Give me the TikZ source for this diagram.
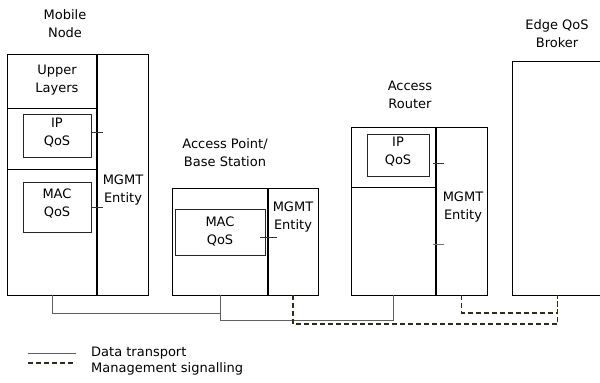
\documentclass[tikz,border=0pt]{standalone}
\usepackage{fontspec}
\setmainfont{DejaVu Sans}
\usepackage{xcolor}
\definecolor{dataline}{RGB}{95,95,95}
\definecolor{mgmtline}{RGB}{45,45,25}
\usepackage{tikz}
\usetikzlibrary{positioning}

\begin{document}
\begin{tikzpicture}[x=1pt,y=-1pt,font=\fontsize{13}{18}\selectfont]
  \tikzstyle{unit}=[rectangle,draw=black,line width=1pt,inner sep=0pt,outer sep=0pt]
  \tikzstyle{qos}=[rectangle,draw=black!85,line width=0.9pt,inner sep=0pt,outer sep=0pt,align=center]
  \tikzstyle{lbl}=[inner sep=0pt,align=center]
  \tikzstyle{data}=[draw=dataline,line width=0.8pt]
  \tikzstyle{mgmt}=[draw=mgmtline,line width=1.6pt,dash pattern=on 5pt off 3pt]
  \tikzstyle{tick}=[draw=black!80,line width=0.9pt]

  \useasboundingbox (0,0) rectangle (600,383);

  % Mobile Node
  \node[lbl] (mnlbl) at (65,24) {Mobile\\Node};
  \node[unit,minimum width=90pt,minimum height=241pt] (mnl) at (52,174.5) {};
  \node[unit,minimum width=51pt,minimum height=241pt] (mnm) at (122.5,174.5) {};
  \draw[line width=1.4pt] (mnm.north west) -- (mnm.south west);
  \draw[line width=0.9pt] (7,108) -- (97,108);
  \draw[line width=0.9pt] (7,169) -- (97,169);
  \node[lbl] (mnup) at (57,80) {Upper\\Layers};
  \node[qos,minimum width=68pt,minimum height=43pt] (mnip) at (57,135.5) {};
  \node[lbl] (mniptxt) at (57,133) {IP\\QoS};
  \node[qos,minimum width=68pt,minimum height=50pt] (mnmac) at (57,207) {};
  \node[lbl] (mnmactxt) at (57,204) {MAC\\QoS};
  \node[lbl] (mnmt) at (123,190) {MGMT\\Entity};
  \draw[tick] ([yshift=3.5pt]mnip.east) -- ++(12,0);
  \draw[tick] (mnmac.east) -- ++(12,0);

  % Access Point / Base Station
  \node[lbl] (aplbl) at (225,153) {Access Point/\\Base Station};
  \node[unit,minimum width=96pt,minimum height=107pt] (apl) at (220,241.5) {};
  \node[unit,minimum width=50pt,minimum height=107pt] (apm) at (293,241.5) {};
  \draw[line width=1.4pt] (apm.north west) -- (apm.south west);
  \node[qos,minimum width=90pt,minimum height=46pt] (apmac) at (220,232) {};
  \node[lbl] (apmactxt) at (220,232) {MAC\\QoS};
  \node[lbl] (apmt) at (293,217) {MGMT\\Entity};
  \draw[tick] ([shift={(-5pt,-5pt)}]apmac.east) -- ++(17,0);

  % Access Router
  \node[lbl] (arlbl) at (410,95) {Access\\Router};
  \node[unit,minimum width=85pt,minimum height=168pt] (arl) at (393.5,211) {};
  \node[unit,minimum width=51pt,minimum height=168pt] (arm) at (461.5,211) {};
  \draw[line width=1.4pt] (arm.north west) -- (arm.south west);
  \draw[line width=0.9pt] (351,187) -- (436,187);
  \node[qos,minimum width=62pt,minimum height=42pt] (arip) at (398,155) {};
  \node[lbl] (ariptxt) at (398,152) {IP\\QoS};
  \node[lbl] (armt) at (463,207) {MGMT\\Entity};
  \draw[tick] ([shift={(-3pt,48pt)}]arm.west) -- ++(11,0);
  \draw[tick,draw=black!55] ([shift={(-3pt,-33pt)}]arm.west) -- ++(11,0);

  % Edge QoS Broker
  \node[lbl] (eqblbl) at (557,34) {Edge QoS\\Broker};
  \node[unit,minimum width=91pt,minimum height=234pt] (eqb) at (557.5,178) {};

  % data transport
  \draw[data] (mnl.south) -- ++(0,18) -| (apl.south);
  \draw[data] (apl.south) -- ++(0,25) -| (arl.south);

  % management signalling
  \draw[mgmt] (apm.south) -- ++(0,29) -| (eqb.south);
  \draw[mgmt] (arm.south) -- ++(0,18) -| (eqb.south);

  % legend
  \coordinate (ld1) at (28,353);
  \coordinate (ld2) at (76,353);
  \coordinate (lm1) at (28,363);
  \coordinate (lm2) at (76,363);
  \draw[data] (ld1) -- (ld2);
  \draw[mgmt] (lm1) -- (lm2);
  \node[lbl,anchor=west] (ldtxt) at (91,353) {Data transport};
  \node[lbl,anchor=west] (lmtxt) at (91,369) {Management signalling};
\end{tikzpicture}
\end{document}
